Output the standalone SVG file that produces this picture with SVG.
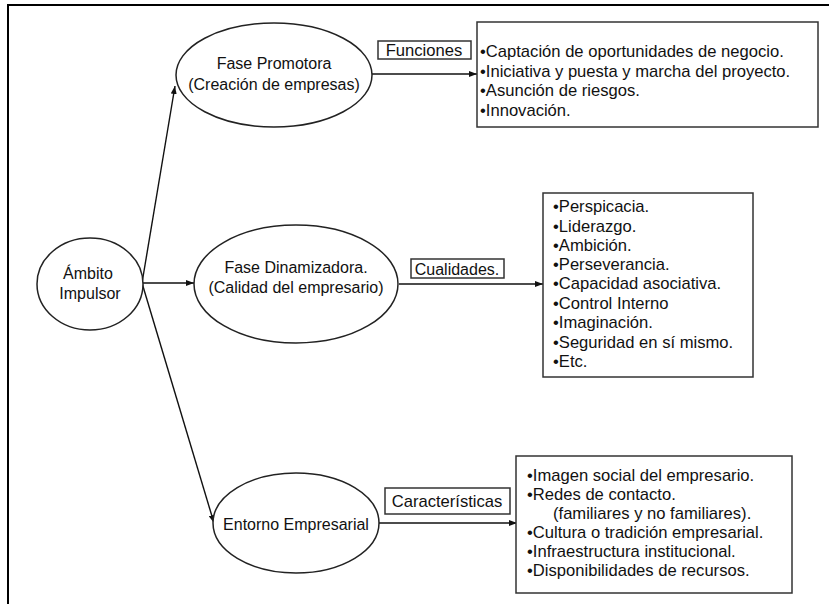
<svg xmlns="http://www.w3.org/2000/svg" width="829" height="604" viewBox="0 0 829 604">
<style>
text{font-family:"Liberation Sans",Arial,sans-serif;font-size:16px;fill:#111}
.c{text-anchor:middle}
.t{font-size:16.6px}
.n{fill:#fff;stroke:#222;stroke-width:1.5}
.b{fill:#fff;stroke:#333;stroke-width:1.5}
.l{fill:none;stroke:#111;stroke-width:1.4}
</style>
<defs>
<marker id="a" viewBox="0 0 8 6" refX="8" refY="3" markerWidth="8" markerHeight="6" markerUnits="userSpaceOnUse" orient="auto">
<path d="M0,0 L8,3 L0,6 Z" fill="#111"/>
</marker>
</defs>
<rect width="829" height="604" fill="#fff"/>
<path d="M8,604 V5 H829" fill="none" stroke="#000" stroke-width="2"/>
<g id="connectors">
<line class="l" x1="142" y1="283" x2="175" y2="86" marker-end="url(#a)"/>
<line class="l" x1="142" y1="283" x2="194" y2="283" marker-end="url(#a)"/>
<line class="l" x1="142" y1="283" x2="214" y2="523" marker-end="url(#a)"/>
<line class="l" x1="372" y1="74" x2="477" y2="74" marker-end="url(#a)"/>
<line class="l" x1="399" y1="284" x2="543" y2="284" marker-end="url(#a)"/>
<line class="l" x1="379" y1="523" x2="517" y2="523" marker-end="url(#a)"/>
</g>
<g id="ambito">
<ellipse class="n" cx="90" cy="284" rx="53" ry="46"/>
<text class="c" x="88" y="279">Ámbito</text>
<text class="c" x="90" y="299">Impulsor</text>
</g>
<g id="fase-promotora">
<ellipse class="n" cx="274" cy="75" rx="98" ry="52"/>
<text class="c" x="274" y="69">Fase Promotora</text>
<text class="c" x="274" y="90">(Creación de empresas)</text>
</g>
<g id="fase-dinamizadora">
<ellipse class="n" cx="296" cy="284" rx="102" ry="59"/>
<text class="c" x="296" y="273">Fase Dinamizadora.</text>
<text class="c" x="296" y="293">(Calidad del empresario)</text>
</g>
<g id="entorno">
<ellipse class="n" cx="296" cy="523" rx="83" ry="50"/>
<text class="c" x="296" y="530">Entorno Empresarial</text>
</g>
<g id="funciones">
<rect class="b" x="378" y="41" width="93" height="18"/>
<text class="c t" x="424" y="56">Funciones</text>
</g>
<g id="cualidades">
<rect class="b" x="411" y="259" width="93" height="19"/>
<text class="c" x="457" y="275">Cualidades.</text>
</g>
<g id="caracteristicas">
<rect class="b" x="385" y="488" width="125" height="26"/>
<text class="c t" x="447" y="507">Características</text>
</g>
<g id="box-funciones">
<rect class="b" x="477" y="22" width="341" height="105"/>
<text class="t" x="480" y="57">•Captación de oportunidades de negocio.</text>
<text class="t" x="480" y="77">•Iniciativa y puesta y marcha del proyecto.</text>
<text class="t" x="480" y="96">•Asunción de riesgos.</text>
<text class="t" x="480" y="116">•Innovación.</text>
</g>
<g id="box-cualidades">
<rect class="b" x="543" y="193" width="210" height="184"/>
<text class="t" x="553" y="212">•Perspicacia.</text>
<text class="t" x="553" y="232">•Liderazgo.</text>
<text class="t" x="553" y="251">•Ambición.</text>
<text class="t" x="553" y="270">•Perseverancia.</text>
<text class="t" x="553" y="289">•Capacidad asociativa.</text>
<text class="t" x="553" y="309">•Control Interno</text>
<text class="t" x="553" y="328">•Imaginación.</text>
<text class="t" x="553" y="348">•Seguridad en sí mismo.</text>
<text class="t" x="553" y="367">•Etc.</text>
</g>
<g id="box-caracteristicas">
<rect class="b" x="516" y="456" width="276" height="137"/>
<text class="t" x="527" y="481">•Imagen social del empresario.</text>
<text class="t" x="527" y="500">•Redes de contacto.</text>
<text class="t" x="553" y="519">(familiares y no familiares).</text>
<text class="t" x="527" y="538">•Cultura o tradición empresarial.</text>
<text class="t" x="527" y="557">•Infraestructura institucional.</text>
<text class="t" x="527" y="576">•Disponibilidades de recursos.</text>
</g>
</svg>
